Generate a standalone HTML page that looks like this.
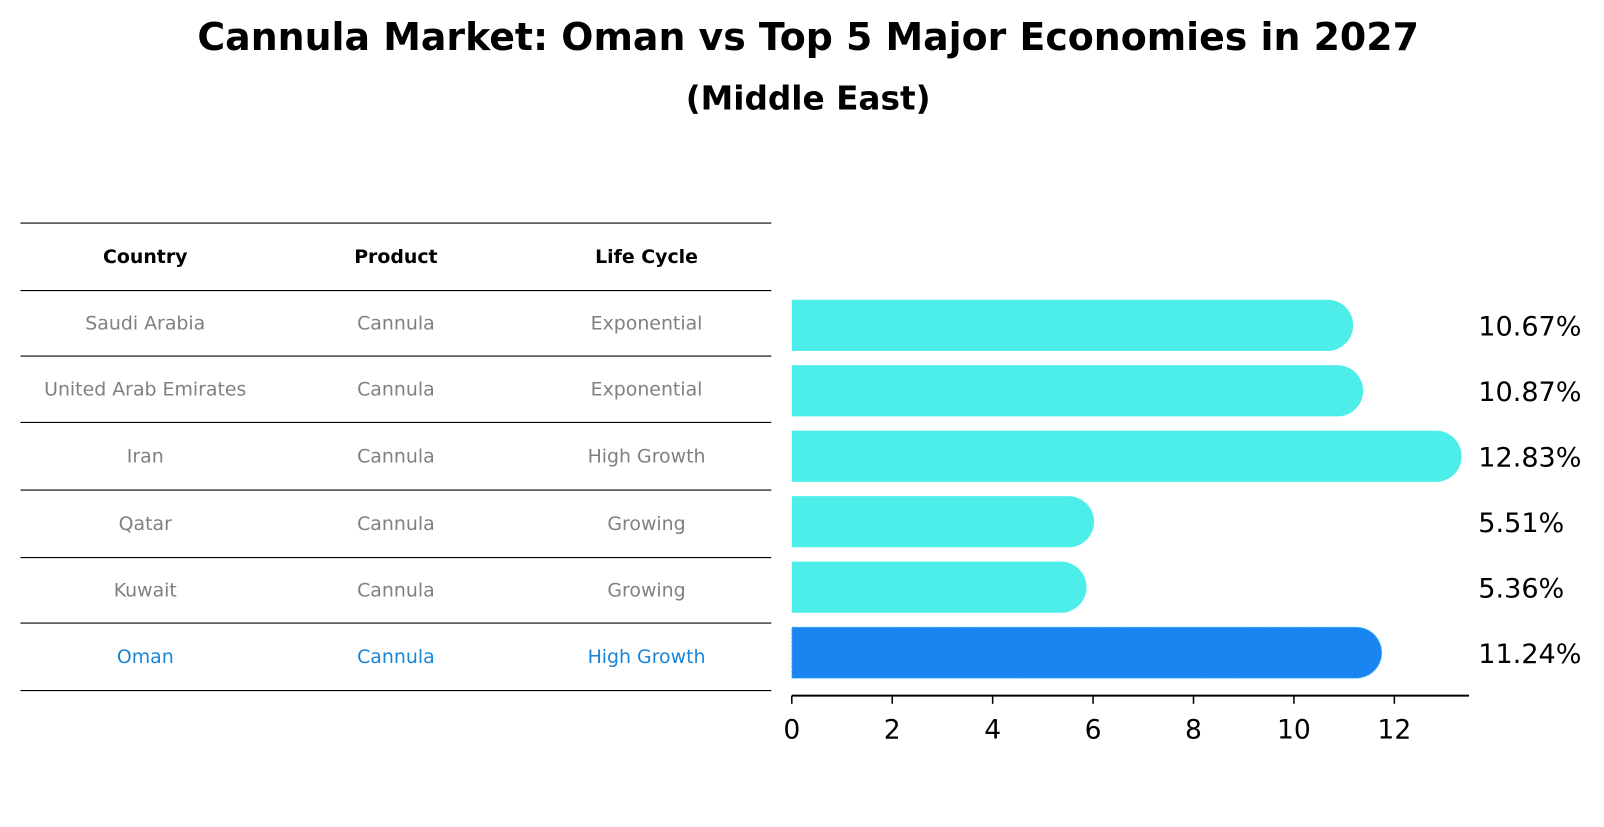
<!DOCTYPE html>
<html><head><meta charset="utf-8"><style>
body{margin:0;background:#fff;font-family:"DejaVu Sans","Liberation Sans",sans-serif;}
</style></head><body>
<svg width="1604" height="823" xmlns="http://www.w3.org/2000/svg" font-family="DejaVu Sans, Liberation Sans, sans-serif">
<g transform="scale(1.023)">
<text x="790" y="49" text-anchor="middle" font-size="37" font-weight="bold">Cannula Market: Oman vs Top 5 Major Economies in 2027</text>
<text x="790" y="107" text-anchor="middle" font-size="32" font-weight="bold">(Middle East)</text>
<g id="table"></g>
<g id="bars"></g>
</g>
</svg>
<script>
const countries=["Saudi Arabia","United Arab Emirates","Iran","Qatar","Kuwait","Oman"];
const products=["Cannula","Cannula","Cannula","Cannula","Cannula","Cannula"];
const lifeCycles=["Exponential","Exponential","High Growth","Growing","Growing","High Growth"];
const values=[10.67,10.87,12.83,5.51,5.36,11.24];
const ticks=[0,2,4,6,8,10,12];
const NS="http://www.w3.org/2000/svg";
function mk(tag,attrs,parent,text){const e=document.createElementNS(NS,tag);for(const k in attrs)e.setAttribute(k,attrs[k]);if(text!==undefined)e.textContent=text;parent.appendChild(e);return e;}
const tbl=document.getElementById('table');
const lineYs=[218,284,348,413,479,545,609,675];
lineYs.forEach((y,i)=>{const l=mk('line',{x1:20,x2:754,y1:y,y2:y,stroke:'#000','stroke-width':1.1},tbl);

});
const colX=[142,387,632];
["Country","Product","Life Cycle"].forEach((h,i)=>{const t=mk('text',{x:colX[i],y:257,'text-anchor':'middle','font-size':18.5,'font-weight':'bold'},tbl,h);

});
countries.forEach((c,r)=>{const y=(lineYs[r+1]+lineYs[r+2])/2+6;const col=r===5?'#1a85d6':'#808080';
[c,products[r],lifeCycles[r]].forEach((v,i)=>{const t=mk('text',{x:colX[i],y:y,'text-anchor':'middle','font-size':18.5,fill:col},tbl,v);

});});
const g=document.getElementById('bars');
const x0=774,unit=(1363-774)/12;
const xs=v=>x0+v*unit;
const bandTop=286,band=64,bh=50;
values.forEach((v,i)=>{const cy=bandTop+band*i+32;const col=i===5?'#1a85f0':'#4deeea';
const p=mk('path',{d:`M${x0},${cy-bh/2} L${xs(v)},${cy-bh/2} A25,25 0 0 1 ${xs(v)},${cy+bh/2} L${x0},${cy+bh/2} Z`,fill:col},g);
if(i===5){p.setAttribute('stroke','#4dc8ff');p.setAttribute('stroke-dasharray','2,2');p.setAttribute('stroke-width','1');}


const t=mk('text',{x:1445,y:cy+10,'font-size':26.5},g,values[i].toFixed(2)+'%');

});
const ax=mk('line',{x1:774,x2:1436,y1:680,y2:680,stroke:'#000','stroke-width':2},g);


ticks.forEach(t=>{const l=mk('line',{x1:xs(t),x2:xs(t),y1:680,y2:688,stroke:'#000','stroke-width':1.5},g);


const tx=mk('text',{x:xs(t),y:722,'text-anchor':'middle','font-size':26},g,String(t));

});
</script>
</body></html>
